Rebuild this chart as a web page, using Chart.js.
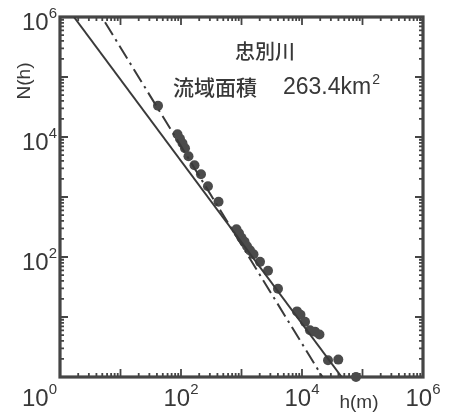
<!DOCTYPE html>
<html>
<head>
<meta charset="utf-8">
<script src="https://cdn.jsdelivr.net/npm/chart.js@4"></script>
<style>
  html, body { margin: 0; padding: 0; background: #ffffff; }
  #wrap { width: 453px; height: 416px; }
</style>
</head>
<body>
<div id="wrap"><canvas id="c" width="453" height="416"></canvas></div>
<script>
// Observed points: h (m) and N(h)
const hValues = [41.7, 87.5, 96.2, 105.9, 116.5, 133, 167, 214, 279, 417,
                 826, 910, 1000, 1122, 1233, 1381, 1578, 2023, 2742, 4010,
                 8270, 9440, 11220, 13550, 16400, 19450, 26900, 39800, 78100];
const nValues = [33100, 11090, 9330, 7850, 6480, 4770, 3375, 2390, 1508, 832,
                 290, 248, 209, 179, 151, 129, 111, 83, 59, 29.5,
                 12.4, 10.9, 8.3, 6.0, 5.7, 5.1, 1.9, 1.95, 1.0];
// Fitted lines (endpoints)
const solidH = [1.70, 45300];
const solidN = [1e6, 1];
const dashH = [5.55, 21800];
const dashN = [817000, 1];
// Axis tick labels (exponents of 10)
const xTickExps = [0, 2, 4, 6];
const yTickExps = [6, 4, 2];
const title = '忠別川';
const areaLabel = '流域面積';
const areaValue = '263.4km';
const areaSup = '2';
const xTitle = 'h(m)';
const yTitle = 'N(h)';

const INK = '#454545';
const TXT = '#383838';
const FONT = '"Liberation Sans", Arial, Helvetica, sans-serif';
const CJK = '"Noto Sans CJK JP", "Noto Sans CJK SC", sans-serif';

function toXY(xs, ys) { return xs.map((v, i) => ({ x: v, y: ys[i] })); }

const framePlugin = {
  id: 'frame',
  beforeDatasetsDraw(chart) {
    const { ctx, chartArea: a, scales: { x, y } } = chart;
    ctx.save();
    ctx.strokeStyle = INK;
    ctx.lineWidth = 1.8;
    for (let d = 0; d < 6; d++) {
      for (let m = 1; m <= 9; m++) {
        const v = m * Math.pow(10, d);
        if (v <= 1) continue;
        const len = m === 1 ? 8 : 4;
        const px = x.getPixelForValue(v);
        ctx.beginPath();
        ctx.moveTo(px, a.bottom); ctx.lineTo(px, a.bottom - len);
        ctx.moveTo(px, a.top); ctx.lineTo(px, a.top + len);
        const py = y.getPixelForValue(v);
        ctx.moveTo(a.left, py); ctx.lineTo(a.left + len, py);
        ctx.moveTo(a.right, py); ctx.lineTo(a.right - len, py);
        ctx.stroke();
      }
    }
    ctx.lineWidth = 3.2;
    ctx.strokeRect(a.left, a.top, a.right - a.left, a.bottom - a.top);
    ctx.restore();
  },
  afterDraw(chart) {
    const { ctx, chartArea: a, scales: { x, y } } = chart;
    ctx.save();
    ctx.fillStyle = TXT;
    const big = '24px ' + FONT, sup = '15px ' + FONT;
    function pow10(exp, cx, cy, align) {
      ctx.font = big;
      const w1 = ctx.measureText('10').width;
      ctx.font = sup;
      const w2 = ctx.measureText(String(exp)).width;
      const tw = w1 + w2;
      let left = align === 'right' ? cx - tw : cx - tw / 2;
      ctx.textAlign = 'left';
      ctx.textBaseline = 'middle';
      ctx.font = big;
      ctx.fillText('10', left, cy);
      ctx.font = sup;
      ctx.fillText(String(exp), left + w1, cy - 9);
    }
    xTickExps.forEach(e => {
      const px = x.getPixelForValue(Math.pow(10, e));
      if (e === 0) pow10(e, a.left - 3, 399, 'right');
      else pow10(e, px, 399, 'center');
    });
    yTickExps.forEach(e => {
      const py = y.getPixelForValue(Math.pow(10, e));
      pow10(e, a.left - 3, py + 6, 'right');
    });
    ctx.font = '19px ' + FONT;
    ctx.textAlign = 'center';
    ctx.textBaseline = 'alphabetic';
    ctx.fillText(xTitle, 359, 408);
    ctx.save();
    ctx.translate(30, 81);
    ctx.rotate(-Math.PI / 2);
    ctx.fillText(yTitle, 0, 0);
    ctx.restore();
    ctx.font = '500 20px ' + CJK;
    ctx.textAlign = 'center';
    ctx.textBaseline = 'middle';
    ctx.fillText(title, 265, 51);
    ctx.textAlign = 'left';
    ctx.font = '500 21px ' + CJK;
    ctx.fillText(areaLabel, 173, 87);
    ctx.font = '23px ' + FONT;
    ctx.fillText(areaValue, 283, 88);
    const w = ctx.measureText(areaValue).width;
    ctx.font = '14px ' + FONT;
    ctx.fillText(areaSup, 283 + w + 1, 80);
    ctx.restore();
  }
};

new Chart(document.getElementById('c'), {
  type: 'scatter',
  data: {
    datasets: [
      {
        label: 'solid',
        data: toXY(solidH, solidN),
        showLine: true,
        borderColor: '#3a3a3a',
        borderWidth: 2,
        pointRadius: 0,
        fill: false
      },
      {
        label: 'dashdot',
        data: toXY(dashH, dashN),
        showLine: true,
        borderColor: '#3a3a3a',
        borderWidth: 2,
        borderDash: [15, 5, 2.5, 5],
        pointRadius: 0,
        fill: false
      },
      {
        label: 'N(h)',
        data: toXY(hValues, nValues),
        showLine: false,
        backgroundColor: '#4b4b4b',
        borderWidth: 0,
        pointRadius: 5,
        clip: false
      }
    ]
  },
  options: {
    responsive: false,
    animation: false,
    devicePixelRatio: 1,
    layout: { padding: { left: 60, top: 17, right: 30, bottom: 39 } },
    plugins: { legend: { display: false }, tooltip: { enabled: false } },
    scales: {
      x: { type: 'logarithmic', min: 1, max: 1e6, display: false },
      y: { type: 'logarithmic', min: 1, max: 1e6, display: false }
    }
  },
  plugins: [framePlugin]
});
</script>
</body>
</html>
